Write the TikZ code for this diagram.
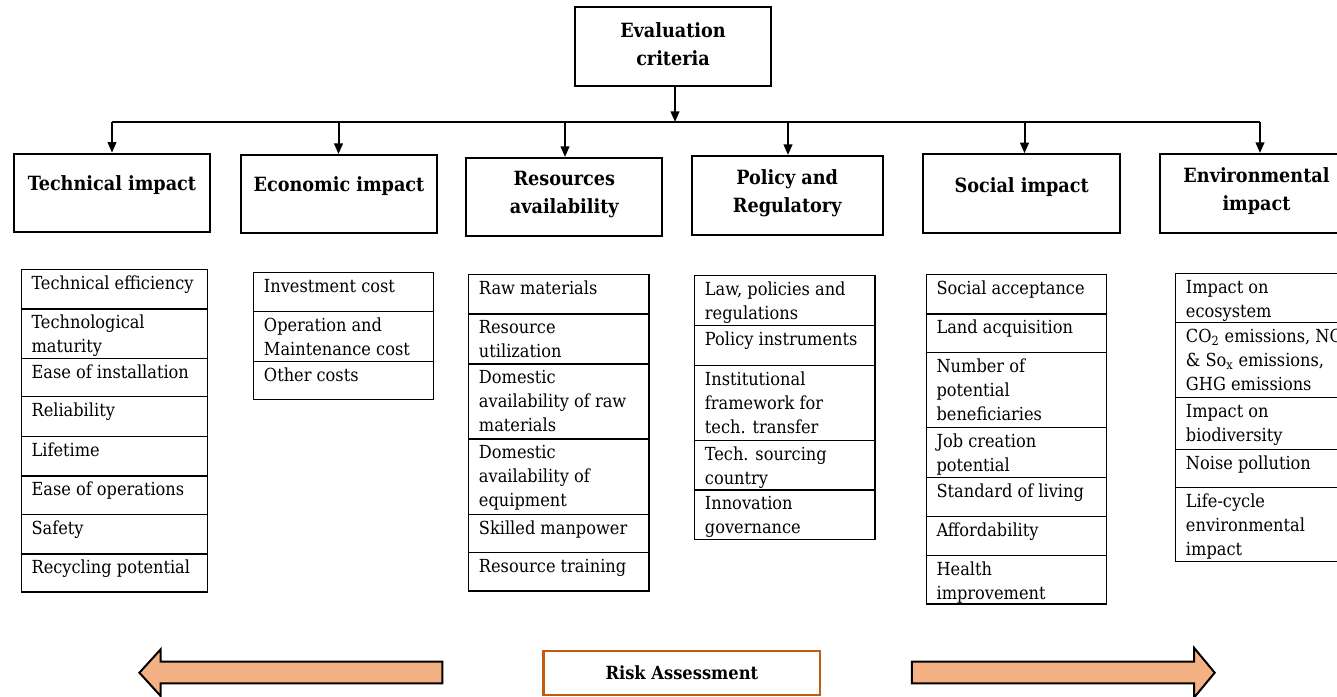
\documentclass[tikz,border=0pt]{standalone}
\usepackage{fontspec}
\setmainfont{DejaVu Serif Condensed}
\usetikzlibrary{arrows.meta}
\definecolor{peach}{HTML}{F4B183}
\definecolor{rust}{HTML}{C55A11}
\newcommand\mycell[6]{%
  \draw[cellline] (#2,#3) rectangle (#4,#5);
  \node[celltext] (#1) at (#2+10,#3+2.7) {\strut #6};}
\begin{document}
\begin{tikzpicture}[x=0.75pt,y=-0.75pt,
  hbox/.style={draw, line width=1.5pt, inner sep=0pt},
  htext/.style={font=\bfseries\fontsize{14.7}{21}\selectfont, align=center, inner sep=0pt},
  cellline/.style={draw, line width=0.8pt},
  celltext/.style={anchor=north west, inner sep=0pt, align=left, font=\fontsize{13.5}{18}\selectfont},
  arr/.style={line width=1.5pt, -{Triangle[length=8pt,width=6.5pt]}},
  bus/.style={line width=1.5pt},
  blockarrow/.style={fill=peach, draw=black, line width=1.5pt, line join=miter},
  riskbox/.style={draw=rust, line width=1.6pt, minimum width=207.7pt, minimum height=33.5pt, inner sep=0pt, font=\bfseries\fontsize{13.6}{16}\selectfont}
]
\useasboundingbox (0,0) rectangle (1337,696);
\clip (0,0) rectangle (1337,696);
\fill[white] (0,0) rectangle (1337,696);

% top box
\node[hbox, minimum width=147pt, minimum height=58.8pt] (eval) at (673,46.5) {};
\node[htext] (evalt) at (673,44) {Evaluation\\criteria};

% header boxes
\node[hbox, minimum width=147.2pt, minimum height=59pt] (tech) at (112,193) {};
\node[htext] (techt) at (112,185) {Technical impact};
\node[hbox, minimum width=147pt, minimum height=58.5pt] (econ) at (339,194) {};
\node[htext] (econt) at (339,186) {Economic impact};
\node[hbox, minimum width=147pt, minimum height=58.5pt] (res) at (564.3,197) {};
\node[htext] (rest) at (564.3,195) {Resources\\availability};
\node[hbox, minimum width=143.3pt, minimum height=59.3pt] (pol) at (787.2,195.5) {};
\node[htext] (polt) at (787.2,193.5) {Policy and\\Regulatory};
\node[hbox, minimum width=147.5pt, minimum height=59.3pt] (soc) at (1021.7,193.8) {};
\node[htext] (soct) at (1021.7,187) {Social impact};
\node[hbox, minimum width=142.8pt, minimum height=59.3pt] (env) at (1254.8,193.5) {};
\node[htext] (envt) at (1256.5,191.5) {Environmental\\impact};

% connectors
\coordinate (b0) at (675,122);
\coordinate (b1) at (112,122);
\coordinate (b2) at (338.5,122);
\coordinate (b3) at (565,122);
\coordinate (b4) at (788,122);
\coordinate (b5) at (1024.5,122);
\coordinate (b6) at (1260,122);
\draw[bus] (b1) -- (b6);
\draw[arr] (eval.south -| b0) -- (b0);
\draw[arr] (b1) -- (b1 |- tech.north);
\draw[arr] (b2) -- (b2 |- econ.north);
\draw[arr] (b3) -- (b3 |- res.north);
\draw[arr] (b4) -- (b4 |- pol.north);
\draw[arr] (b5) -- (b5 |- soc.north);
\draw[arr] (b6) -- (b6 |- env.north);

% technical table
\mycell{t1}{21.3}{269.3}{207.7}{309}{Technical efficiency}
\mycell{t2}{21.3}{309}{207.7}{358.7}{Technological\\maturity}
\mycell{t3}{21.3}{358.7}{207.7}{396.7}{Ease of installation}
\mycell{t4}{21.3}{396.7}{207.7}{436.7}{Reliability}
\mycell{t5}{21.3}{436.7}{207.7}{476}{Lifetime}
\mycell{t6}{21.3}{476}{207.7}{514.7}{Ease of operations}
\mycell{t7}{21.3}{514.7}{207.7}{554}{Safety}
\mycell{t8}{21.3}{554}{207.7}{592}{Recycling potential}

% economic table
\mycell{e1}{253.7}{272.3}{433.7}{311.7}{Investment cost}
\mycell{e2}{253.7}{311.7}{433.7}{361.3}{Operation and\\Maintenance cost}
\mycell{e3}{253.7}{361.3}{433.7}{399.3}{Other costs}

% resources table
\mycell{r1}{468.7}{274.3}{649}{314}{Raw materials}
\mycell{r2}{468.7}{314}{649}{364}{Resource\\utilization}
\mycell{r3}{468.7}{364}{649}{439}{Domestic\\availability of raw\\materials}
\mycell{r4}{468.7}{439}{649}{514.3}{Domestic\\availability of\\equipment}
\mycell{r5}{468.7}{514.3}{649}{552.7}{Skilled manpower}
\mycell{r6}{468.7}{552.7}{649}{591}{Resource training}

% policy table
\mycell{p1}{694.7}{275.7}{875}{325.7}{Law, policies and\\regulations}
\mycell{p2}{694.7}{325.7}{875}{365.3}{Policy instruments}
\mycell{p3}{694.7}{365.3}{875}{440.3}{Institutional\\framework for\\tech. transfer}
\mycell{p4}{694.7}{440.3}{875}{490}{Tech. sourcing\\country}
\mycell{p5}{694.7}{490}{875}{539.3}{Innovation\\governance}

% social table
\mycell{s1}{926.3}{274.3}{1106.3}{314}{Social acceptance}
\mycell{s2}{926.3}{314}{1106.3}{352.3}{Land acquisition}
\mycell{s3}{926.3}{352.3}{1106.3}{427.7}{Number of\\potential\\beneficiaries}
\mycell{s4}{926.3}{427.7}{1106.3}{477.3}{Job creation\\potential}
\mycell{s5}{926.3}{477.3}{1106.3}{516.7}{Standard of living}
\mycell{s6}{926.3}{516.7}{1106.3}{555.3}{Affordability}
\mycell{s7}{926.3}{555.3}{1106.3}{604}{Health\\improvement}

% environmental table
\mycell{v1}{1175.7}{273.3}{1360}{322.7}{Impact on\\ecosystem}
\mycell{v2}{1175.7}{322.7}{1360}{397.7}{CO\textsubscript{2} emissions, NO\textsubscript{x}\\\& So\textsubscript{x} emissions,\\GHG emissions}
\mycell{v3}{1175.7}{397.7}{1360}{449.3}{Impact on\\biodiversity}
\mycell{v4}{1175.7}{449.3}{1360}{487.7}{Noise pollution}
\mycell{v5}{1175.7}{487.7}{1360}{561.7}{Life-cycle\\environmental\\impact}

% risk assessment
\filldraw[blockarrow] (442.4,661.7) -- (160.7,661.7) -- (160.7,649.3) -- (139.4,672.7) -- (160.7,696.1) -- (160.7,683.3) -- (442.4,683.3) -- cycle;
\filldraw[blockarrow] (911.8,661.7) -- (1194.2,661.7) -- (1194.2,648) -- (1214.7,672.7) -- (1194.2,697.4) -- (1194.2,683.3) -- (911.8,683.3) -- cycle;
\node[riskbox] (risk) at (681.9,673) {Risk Assessment};
\end{tikzpicture}
\end{document}
